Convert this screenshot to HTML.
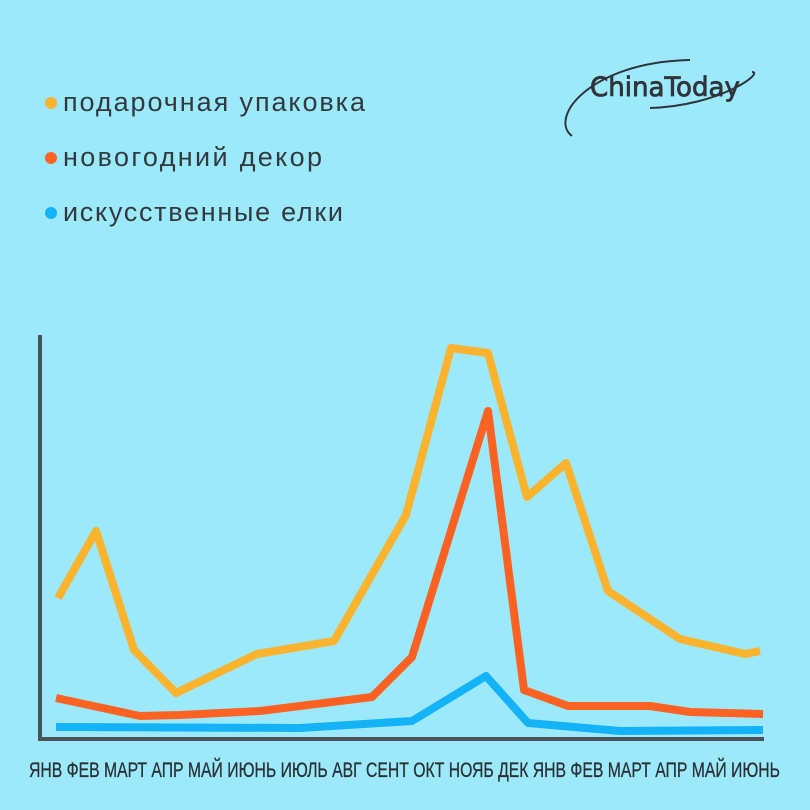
<!DOCTYPE html>
<html><head><meta charset="utf-8"><style>
html,body{margin:0;padding:0;background:#9ce9fc;}
svg{display:block}
</style></head><body>
<svg width="810" height="810" viewBox="0 0 810 810" xmlns="http://www.w3.org/2000/svg">
<rect width="810" height="810" fill="#9ce9fc"/>
<g font-family="'Liberation Sans', sans-serif" font-size="27" fill="#333a3e">
<circle cx="51" cy="103" r="6" fill="#fbb22c"/><text x="63" y="111" textLength="302" lengthAdjust="spacing">подарочная упаковка</text>
<circle cx="51" cy="158" r="6" fill="#fd6223"/><text x="63" y="166" textLength="259" lengthAdjust="spacing">новогодний декор</text>
<circle cx="51" cy="213" r="6" fill="#14b2f6"/><text x="63" y="221" textLength="280" lengthAdjust="spacing">искусственные елки</text>
</g>
<path d="M572,136 C548,118 590,62 690,60" fill="none" stroke="#2f3538" stroke-width="2"/>
<path d="M650,108 C720,106 765,72 752,72" fill="none" stroke="#2f3538" stroke-width="2"/>
<text x="590" y="96" font-family="'DejaVu Sans', sans-serif" font-size="27" fill="#2f3538" stroke="#2f3538" stroke-width="0.8" textLength="150" lengthAdjust="spacingAndGlyphs">ChinaToday</text>
<path d="M40,335 V739 H764" fill="none" stroke="#4a5458" stroke-width="4"/>
<polyline points="58,598 96,531 134,650 176,693 257,654 334,641 406,515 451,348 488,353 527,497 566,463 608,591 680,639 745,654 760,651" fill="none" stroke="#fbb22c" stroke-width="8" stroke-linejoin="round"/>
<polyline points="56,698 140,716 180,715 260,711 372,697 412,657 488,411 524,690 568,706 650,706 690,712 763,714" fill="none" stroke="#fd6223" stroke-width="8" stroke-linejoin="round"/>
<polyline points="56,727 300,728 412,721 486,676 528,723 620,731 763,730" fill="none" stroke="#14b2f6" stroke-width="8" stroke-linejoin="round"/>
<text x="29" y="777" font-family="'Liberation Sans Narrow','Liberation Sans',sans-serif" font-size="21" fill="#2a3134" stroke="#2a3134" stroke-width="0.3" textLength="751" lengthAdjust="spacingAndGlyphs">ЯНВ ФЕВ МАРТ АПР МАЙ ИЮНЬ ИЮЛЬ АВГ СЕНТ ОКТ НОЯБ ДЕК ЯНВ ФЕВ МАРТ АПР МАЙ ИЮНЬ</text>
</svg>
</body></html>
